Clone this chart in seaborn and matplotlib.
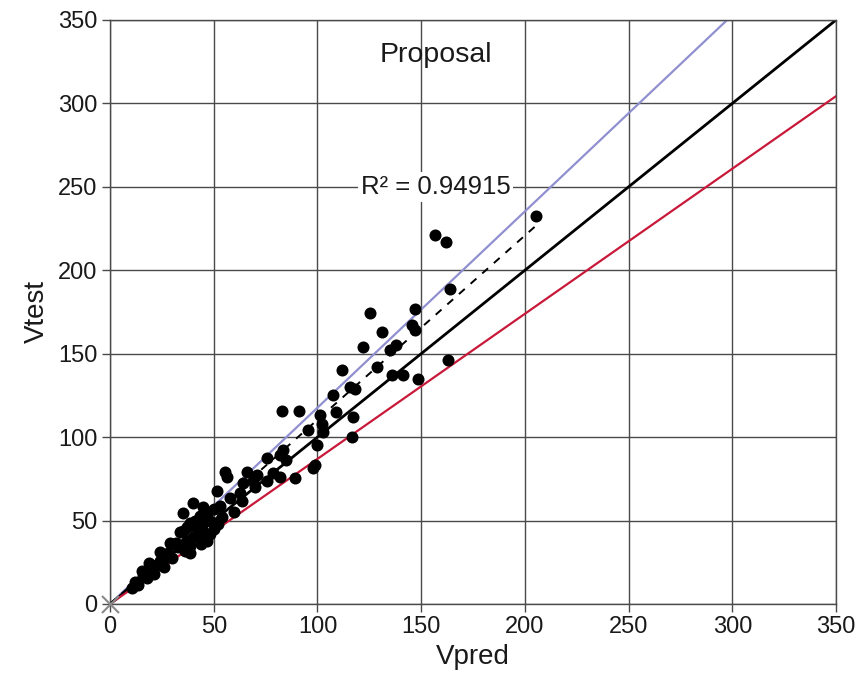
import numpy as np
import matplotlib
matplotlib.use("Agg")
import matplotlib.pyplot as plt
import seaborn as sns

# Predicted vs. tested shear capacity
v_pred = [205.4, 156.7, 162, 164, 163,
          125.4, 147, 145.6, 147, 131, 122, 138, 135, 112, 128.7, 136, 141, 148.5, 115.7, 118, 107.5,
          83, 91, 101, 102, 109, 117, 95.5, 102.7, 116.7, 99.8, 83.4, 82, 75.7, 85, 98.8, 98, 89,
          66, 71, 78.6, 64, 75.7, 82, 70,
          55.4, 56.4, 51.6, 69, 62.7, 58, 63.6, 53, 40, 45, 35, 43.4, 48, 38.6, 45, 33.8, 40, 46.6, 32, 38.6,
          10.6, 12, 16, 15.4, 20.7, 19, 24, 24, 28, 29, 32.8, 37, 35, 42, 45, 38.6, 17.8, 13.5, 22.7, 30,
          50, 48, 52, 43, 36, 26, 21, 27, 44, 41, 37, 47, 50, 54, 60]
v_test = [232.5, 221, 217, 189, 146,
          174.4, 177, 167, 164, 163, 154, 155, 152, 140, 142, 137, 137, 135, 130, 129, 125,
          115.6, 115.6, 113, 108, 115, 112, 104, 103, 100, 95, 92, 89, 87.5, 86, 83, 81.5, 75.5,
          79, 77, 78.5, 72.5, 74, 76, 70,
          79, 76, 68, 74, 66.5, 63.5, 62, 59, 60.5, 58, 54.5, 53, 50, 48.5, 44, 43, 40, 38, 36.5, 35,
          9.6, 13, 17, 20, 20, 24.5, 26, 31, 30.5, 36.5, 34, 38, 44, 46, 48.5, 30.5, 15.6, 11.4, 23.4, 27.6,
          45, 42, 48, 40, 32, 22, 18, 28, 36, 50, 46, 55, 57, 52, 55]

ticks = [0, 50, 100, 150, 200, 250, 300, 350]
r2_label = "R² = 0.94915"
title_label = "Proposal"

# Reference lines: equality and +/-15 % bounds
upper_factor = 1 / 0.85
lower_factor = 1 / 1.15

sns.set_theme(style="white")
plt.rcParams["font.family"] = ["Liberation Sans", "DejaVu Sans"]

fig = plt.figure(figsize=(8.61, 6.82), dpi=100)
ax = fig.add_axes([0.1278, 0.1144, 0.9710 - 0.1278, 0.9707 - 0.1144])

ax.set_xlim(0, 350)
ax.set_ylim(0, 350)
ax.set_xticks(ticks)
ax.set_yticks(ticks)
ax.grid(True, color="#4a4a4a", linewidth=1.0)
ax.set_axisbelow(True)
for s in ax.spines.values():
    s.set_color("#4a4a4a")
    s.set_linewidth(1.0)

xs = np.array([0, 350])
ax.plot(xs, xs * upper_factor, color="#9090d0", linewidth=1.6, zorder=2)
ax.plot(xs, xs, color="black", linewidth=2.0, zorder=2)
ax.plot(xs, xs * lower_factor, color="#c8193a", linewidth=1.6, zorder=2)

# Least-squares trend through the origin
vp = np.array(v_pred)
vt = np.array(v_test)
slope = np.sum(vp * vt) / np.sum(vp * vp)
xf = np.array([0, vp.max()])
ax.plot(xf, slope * xf, color="black", linewidth=1.4, linestyle=(0, (4, 4)), zorder=2)

sns.scatterplot(x=v_pred, y=v_test, ax=ax, color="black", s=75, edgecolor="black",
                linewidth=0, zorder=3, legend=False)
ax.scatter([0], [0], marker="x", s=150, color="#8a8a8a", linewidths=1.5, zorder=4, clip_on=False)

ax.tick_params(axis="both", which="both", direction="out", length=6, width=1.0,
               color="#4a4a4a", labelsize=17, labelcolor="#1a1a1a", pad=3,
               bottom=True, left=True)
ax.set_xlabel("Vpred", fontsize=20, labelpad=4, color="#1a1a1a")
ax.set_ylabel("Vtest", fontsize=20, labelpad=6, color="#1a1a1a")

ax.text(157, 329, title_label, fontsize=20.5, ha="center", va="center", color="#1a1a1a")
ax.text(157, 250, r2_label, fontsize=18.5, ha="center", va="center", color="#1a1a1a",
        bbox=dict(facecolor="white", edgecolor="none", pad=2))

fig.savefig("out.png", dpi=100)
